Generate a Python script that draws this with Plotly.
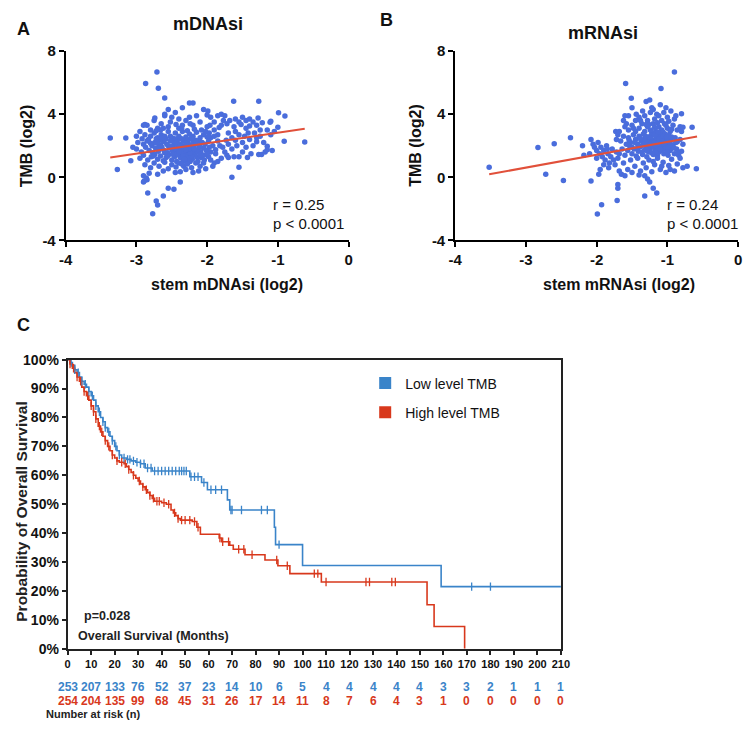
import numpy as np
import plotly.graph_objects as go

FONT = "Arial, Liberation Sans, Helvetica, sans-serif"

# ---------------- Panel A data: stem mDNAsi (log2) vs TMB (log2) ----------------
mdnasi_points = [
    # upper band of core
    (-2.55,4.3),(-2.45,4.1),(-2.35,4.4),(-2.2,4.7),(-2.05,4.3),(-2.6,3.9),(-2.5,3.8),(-2.4,3.7),(-2.3,3.6),(-2.15,3.9),
    (-2.85,3.3),(-2.75,3.6),(-2.9,3.3),(-2.65,3.4),(-2.2,3.3),(-2.1,3.5),(-2.0,3.2),(-2.7,3.1),(-2.55,3.2),(-2.35,3.3),
    (-2.25,3.8),(-2.6,4.0),(-2.8,3.0),(-2.4,3.1),(-2.18,3.05),
    # y 2.5-3.0
    (-2.95,2.9),(-2.88,2.7),(-2.8,2.6),(-2.75,2.8),(-2.7,2.5),(-2.65,2.7),(-2.6,2.6),(-2.55,2.9),(-2.5,2.5),(-2.45,2.8),
    (-2.4,2.6),(-2.35,2.9),(-2.3,2.55),(-2.25,2.75),(-2.2,2.6),(-2.15,2.85),(-2.1,2.5),(-2.05,2.7),(-2.0,2.55),(-2.72,2.95),
    (-2.58,2.45),(-2.42,2.35),(-2.28,2.4),(-2.12,2.3),(-2.83,2.4),(-2.92,2.45),(-3.0,2.6),
    # y 2.0-2.5
    (-3.05,1.9),(-2.98,2.2),(-2.9,2.1),(-2.85,2.3),(-2.78,2.0),(-2.74,2.2),(-2.68,2.35),(-2.66,2.05),(-2.62,2.25),(-2.57,2.1),
    (-2.52,2.3),(-2.48,2.0),(-2.44,2.2),(-2.38,2.1),(-2.34,2.3),(-2.31,2.0),(-2.27,2.2),(-2.23,2.05),(-2.19,2.25),(-2.16,2.1),
    (-2.11,2.0),(-2.07,2.2),(-2.03,2.1),(-1.98,2.3),(-2.6,2.4),(-2.46,2.45),(-2.36,2.45),(-2.21,2.4),(-2.7,2.15),(-2.55,2.0),
    # y 1.5-2.0
    (-3.0,1.8),(-2.93,1.6),(-2.87,1.9),(-2.82,1.7),(-2.77,1.55),(-2.73,1.85),(-2.69,1.65),(-2.64,1.9),(-2.61,1.7),(-2.56,1.55),
    (-2.53,1.85),(-2.49,1.7),(-2.45,1.6),(-2.41,1.9),(-2.37,1.75),(-2.33,1.55),(-2.29,1.85),(-2.26,1.65),(-2.22,1.9),(-2.18,1.5),
    (-2.14,1.75),(-2.09,1.6),(-2.05,1.85),(-2.01,1.7),(-2.35,1.95),(-2.28,1.6),(-2.24,1.75),(-2.31,1.7),(-2.27,1.5),(-2.2,1.7),
    # y 1.0-1.5
    (-2.95,1.2),(-2.9,1.4),(-2.84,1.1),(-2.79,1.3),(-2.74,1.45),(-2.7,1.15),(-2.66,1.35),(-2.62,1.05),(-2.58,1.25),(-2.54,1.45),
    (-2.5,1.1),(-2.46,1.3),(-2.43,1.0),(-2.39,1.4),(-2.35,1.2),(-2.32,1.45),(-2.29,1.05),(-2.25,1.3),(-2.21,1.15),(-2.17,1.4),
    (-2.13,1.0),(-2.08,1.25),(-2.04,1.1),(-2.34,1.0),(-2.27,1.4),(-2.24,1.0),(-2.3,1.3),(-2.26,1.2),(-2.38,1.25),(-2.22,1.35),
    # y 0.5-1.0
    (-2.88,0.8),(-2.8,0.6),(-2.75,0.9),(-2.68,0.7),(-2.6,0.95),(-2.55,0.55),(-2.5,0.8),(-2.44,0.65),(-2.4,0.9),(-2.33,0.7),
    (-2.28,0.85),(-2.22,0.6),(-2.16,0.9),(-2.1,0.7),(-2.02,0.55),(-2.3,0.5),(-2.38,0.35),(-2.62,0.4),(-2.7,0.2),(-2.82,0.25),
    (-2.9,0.1),(-2.85,-0.15),(-2.45,0.3),(-2.2,0.3),(-2.12,0.4),
    # extra core density
    (-2.48,1.45),(-2.44,1.8),(-2.4,2.05),(-2.36,1.6),(-2.32,1.9),(-2.28,2.3),(-2.24,1.55),(-2.2,1.95),(-2.16,2.35),(-2.13,1.6),
    (-2.46,2.15),(-2.42,1.5),(-2.38,2.0),(-2.34,1.35),(-2.3,2.15),(-2.26,1.8),(-2.22,2.5),(-2.18,1.8),(-2.14,1.25),(-2.1,1.45),
    (-2.5,1.95),(-2.52,2.6),(-2.56,1.35),(-2.6,1.55),(-2.64,2.5),(-2.68,1.9),(-2.72,2.45),(-2.76,1.35),(-2.8,2.15),(-2.66,3.0),
    (-2.62,3.1),(-2.52,3.5),(-2.44,3.35),(-2.36,3.1),(-2.28,2.95),(-2.24,3.4),(-2.32,1.15),(-2.36,0.85),(-2.4,1.6),(-2.3,1.75),
    # outliers / sparse left
    (-2.71,6.67),(-2.87,5.94),(-2.69,5.64),(-2.60,5.02),(-3.37,2.49),(-3.15,2.49),(-3.27,0.49),(-3.08,1.05),(-2.89,-0.23),
    (-2.84,-1.0),(-2.77,-2.3),(-2.72,-1.5),(-2.70,-1.75),(-2.62,-1.19),(-2.55,-0.7),(-2.47,-0.75),(-2.38,-0.3),(-2.25,4.7),
    (-2.88,3.35),(-2.9,-0.3),(-2.86,-0.05),(-2.74,3.75),
    # right side
    (-1.99,4.2),(-1.625,4.81),(-1.27,4.81),(-0.99,4.09),(-0.90,3.89),(-0.62,2.24),(-0.91,2.28),(-1.0,3.17),(-1.11,3.48),(-1.65,0.0),
    (-1.55,0.64),(-1.27,1.45),(-1.23,1.45),(-1.15,1.96),(-1.15,1.75),(-1.43,1.25),(-1.55,1.3),(-1.62,1.3),(-1.7,1.25),(-1.30,2.5),
    (-1.95,3.8),(-1.85,3.9),(-1.8,4.0),(-1.75,3.9),(-1.9,3.0),(-1.85,2.7),(-1.8,3.3),(-1.72,3.4),(-1.68,3.6),(-1.6,3.7),
    (-1.55,3.5),(-1.5,3.8),(-1.45,3.6),(-1.4,3.7),(-1.35,3.5),(-1.3,3.3),(-1.25,3.0),(-1.45,3.1),(-1.6,2.9),(-1.7,2.8),
    (-1.65,2.5),(-1.55,2.7),(-1.5,2.2),(-1.4,2.4),(-1.35,2.0),(-1.45,1.9),(-1.58,2.0),(-1.7,2.1),(-1.78,1.9),(-1.85,2.3),
    (-1.92,2.0),(-1.95,1.6),(-1.88,1.5),(-1.8,1.2),(-1.75,1.6),(-1.65,1.8),(-1.5,1.6),(-1.38,1.5),(-1.2,2.2),(-1.1,2.7),
    (-1.25,2.6),(-1.42,2.8),(-1.62,3.2),(-1.77,3.6),(-1.9,3.5),(-1.97,2.8),(-1.98,1.3),(-1.9,0.9),(-1.85,1.0),(-1.92,0.7),
    (-1.95,2.5),(-1.83,3.15),(-1.73,2.35),(-1.6,2.35),(-1.47,2.6),(-1.52,3.35),(-1.33,2.8),(-1.15,3.0),(-1.05,2.9),(-1.08,1.7),
    (-1.18,1.6),(-1.4,3.25),(-1.22,3.45),(-1.28,3.75),(-1.1,3.55),(-1.3,2.25),(-1.72,1.4),(-1.9,2.6),(-1.96,3.3),(-1.82,2.0),
    (-2.0,3.95),(-2.08,3.0),(-2.02,2.9),(-1.98,2.6),(-2.05,1.4),(-1.97,1.9),(-2.0,1.5),(-1.95,1.1),(-2.05,0.9),(-1.88,1.75),
    (-2.1,1.9),
]
mdnasi_fit_x = [-3.37, -0.62]
mdnasi_fit_y = [1.25, 3.08]

# ---------------- Panel B data: stem mRNAsi (log2) vs TMB (log2) ----------------
mrnasi_points = [
    # left arm
    (-2.08,2.4),(-2.05,2.1),(-2.03,1.9),(-2.0,1.7),(-1.98,2.2),(-1.96,1.5),(-1.94,1.9),(-1.92,1.3),(-1.9,1.7),(-1.88,1.1),
    (-1.86,2.0),(-1.84,1.5),(-1.82,0.9),(-1.8,1.3),(-1.78,1.8),(-1.76,1.1),(-1.74,0.8),(-1.72,1.6),(-1.7,1.2),(-1.95,0.5),
    (-1.97,0.2),(-2.0,1.2),(-1.9,0.8),(-2.2,2.0),(-2.18,1.4),(-2.1,1.5),(-1.85,1.8),(-1.83,0.6),(-1.68,0.4),(-1.65,0.2),
    (-1.73,2.9),(-1.7,2.7),(-1.72,2.4),
    # y 3.5-4.9
    (-1.55,3.9),(-1.5,4.4),(-1.4,3.8),(-1.35,4.2),(-1.3,4.8),(-1.25,4.9),(-1.2,4.3),(-1.15,4.0),(-1.1,4.6),(-1.05,4.1),
    (-1.0,3.8),(-0.95,4.2),(-0.9,3.7),(-1.28,3.6),(-1.18,3.7),(-1.08,3.6),(-1.45,3.6),(-1.6,3.9),(-1.62,3.6),(-1.58,3.4),
    (-1.22,4.4),(-1.32,3.9),(-0.98,3.55),(-1.12,3.9),(-1.02,4.4),(-1.24,4.1),(-0.88,3.9),
    # y 2.8-3.5
    (-1.68,2.9),(-1.6,3.2),(-1.55,3.0),(-1.5,3.3),(-1.45,2.9),(-1.4,3.1),(-1.36,3.4),(-1.32,2.9),(-1.28,3.2),(-1.24,3.0),
    (-1.2,3.4),(-1.16,2.9),(-1.12,3.2),(-1.08,3.0),(-1.04,3.4),(-1.0,3.1),(-0.96,2.9),(-0.92,3.3),(-0.86,3.0),(-0.82,3.2),
    (-0.8,2.9),(-1.3,3.35),(-1.14,3.45),(-1.48,3.1),(-1.22,2.85),(-1.06,2.85),
    # y 2.0-2.8
    (-1.66,2.3),(-1.62,2.6),(-1.58,2.1),(-1.55,2.5),(-1.52,2.2),(-1.48,2.7),(-1.45,2.4),(-1.42,2.1),(-1.4,2.6),(-1.37,2.3),
    (-1.34,2.75),(-1.31,2.0),(-1.29,2.45),(-1.26,2.2),(-1.23,2.65),(-1.2,2.35),(-1.18,2.05),(-1.15,2.55),(-1.12,2.25),(-1.1,2.7),
    (-1.07,2.1),(-1.04,2.45),(-1.01,2.2),(-0.98,2.65),(-0.95,2.35),(-0.92,2.05),(-0.89,2.5),(-0.86,2.25),(-0.82,2.4),(-0.78,2.1),
    (-1.27,2.55),(-1.17,2.4),(-1.14,2.15),(-1.21,2.1),(-1.33,2.35),(-1.09,2.4),(-1.03,2.75),(-0.97,2.2),(-1.24,2.35),(-1.16,2.65),
    # y 1.3-2.0
    (-1.68,1.5),(-1.64,1.8),(-1.6,1.4),(-1.56,1.7),(-1.53,1.95),(-1.5,1.5),(-1.47,1.8),(-1.44,1.35),(-1.41,1.65),(-1.38,1.95),
    (-1.35,1.45),(-1.32,1.75),(-1.29,1.3),(-1.26,1.6),(-1.23,1.9),(-1.2,1.45),(-1.17,1.75),(-1.14,1.35),(-1.11,1.65),(-1.08,1.95),
    (-1.05,1.5),(-1.02,1.8),(-0.99,1.4),(-0.96,1.7),(-0.93,1.95),(-0.9,1.5),(-0.87,1.8),(-0.84,1.4),(-0.8,1.65),(-1.25,1.75),
    (-1.19,1.9),(-1.13,1.55),(-1.07,1.75),(-1.28,1.85),(-1.16,1.6),(-1.0,1.6),
    # y 0.3-1.3
    (-1.62,0.9),(-1.56,0.5),(-1.52,1.1),(-1.46,0.7),(-1.42,1.2),(-1.38,0.4),(-1.34,0.9),(-1.3,0.6),(-1.26,1.1),(-1.22,0.35),
    (-1.18,0.8),(-1.14,1.2),(-1.1,0.5),(-1.06,0.95),(-1.02,0.3),(-0.98,0.75),(-0.94,1.15),(-0.9,0.4),(-0.86,0.85),(-0.82,1.2),
    (-0.78,0.6),(-1.2,1.0),(-1.08,0.7),(-0.96,0.5),(-1.5,0.3),(-1.4,0.15),(-1.28,-0.1),(-1.25,-0.3),(-1.32,0.1),(-1.6,0.1),
    # extra centre density
    (-1.3,2.15),(-1.27,1.95),(-1.24,2.5),(-1.21,2.25),(-1.18,2.7),(-1.15,1.85),(-1.12,2.45),(-1.09,2.05),(-1.06,2.6),(-1.03,1.95),
    (-1.0,2.45),(-1.31,2.6),(-1.28,1.65),(-1.25,2.05),(-1.22,1.55),(-1.19,2.2),(-1.16,2.0),(-1.13,2.85),(-1.1,1.8),(-1.07,2.3),
    (-1.04,2.1),(-1.01,2.55),(-0.99,1.9),(-1.34,2.1),(-1.36,1.6),(-1.38,2.45),(-1.42,1.85),(-1.46,2.2),(-1.5,1.9),(-1.54,2.35),
    (-0.94,2.55),(-0.91,1.85),(-0.88,2.2),(-0.85,1.6),(-0.94,3.05),(-1.18,3.15),(-1.26,3.35),(-1.38,3.6),(-1.44,4.0),(-1.02,3.3),
    # outliers
    (-0.72,0.7),(-0.59,0.54),(-0.8,4.03),(-0.78,3.17),(-0.65,3.17),(-1.59,5.94),(-0.9,6.67),(-1.09,5.62),(-1.51,5.0),
    (-1.71,-1.46),(-1.70,-0.7),(-1.70,-0.45),(-1.32,-1.19),(-1.15,-1.0),(-1.2,-0.7),(-3.52,0.64),(-2.83,1.89),(-2.60,2.12),
    (-2.37,2.51),(-2.72,0.2),(-2.47,-0.2),(-2.08,-0.23),(-1.93,-1.73),(-1.99,-2.33),
]
mrnasi_fit_x = [-3.52, -0.58]
mrnasi_fit_y = [0.19, 2.59]

scatter_xticks = [-4, -3, -2, -1, 0]
scatter_yticks = [-4, 0, 4, 8]

# ---------------- Panel C data: Kaplan-Meier overall survival ----------------
low_times = [0, 1, 2, 3, 4, 5, 6, 7, 8, 9, 10, 11, 12, 13, 14, 15, 16, 17, 18, 19, 20, 21, 22, 23, 25, 27, 29, 31, 33, 36,
             52, 57, 59.5, 68, 69, 88, 88.5, 100, 159]
low_surv = [1.0, 0.99, 0.98, 0.965, 0.955, 0.94, 0.925, 0.915, 0.905, 0.89, 0.875, 0.86, 0.84, 0.82, 0.80, 0.785, 0.765,
            0.75, 0.735, 0.72, 0.70, 0.685, 0.67, 0.66, 0.655, 0.65, 0.645, 0.64, 0.625, 0.615,
            0.595, 0.575, 0.55, 0.515, 0.48, 0.42, 0.36, 0.288, 0.215]
low_end = 210
low_censor = [1.5, 3, 4.5, 6, 7.5, 9, 10.5, 12, 13.5, 15, 16, 17.5, 19, 20.5, 22, 24, 25.5, 26.5, 28, 29.5, 31, 32.5, 34,
              35.5, 37, 38.5, 40, 41.5, 43, 44.5, 46, 47.5, 48.5, 49.5, 50.5, 52.5, 54, 55.5, 58, 61, 63, 65.5, 69.5,
              70, 74, 82.5, 85, 90, 172, 180]

high_times = [0, 1, 2, 3, 4, 5, 6, 7, 8, 9, 10, 11, 12, 13, 14, 15, 16, 17, 18, 19, 20, 21, 22, 24, 25, 26, 27, 28, 29,
              30, 31, 32, 33, 34, 35, 36, 37, 40, 42, 44, 45, 46, 47, 48, 53, 55, 56.5, 64.5, 65.5, 69, 70.5, 75.5, 84,
              89.5, 94.6, 108, 153, 156, 169]
high_surv = [1.0, 0.985, 0.97, 0.955, 0.94, 0.925, 0.905, 0.89, 0.875, 0.86, 0.84, 0.82, 0.795, 0.77, 0.75, 0.735, 0.72,
             0.70, 0.685, 0.67, 0.66, 0.65, 0.645, 0.64, 0.63, 0.62, 0.61, 0.60, 0.59, 0.58, 0.57, 0.56, 0.55, 0.54,
             0.53, 0.52, 0.51, 0.505, 0.50, 0.48, 0.47, 0.46, 0.45, 0.445, 0.44, 0.42, 0.396, 0.383, 0.37, 0.358,
             0.344, 0.325, 0.307, 0.287, 0.26, 0.231, 0.152, 0.077, 0.0]
high_censor = [1, 2.5, 4, 5.5, 7, 8.5, 10, 11, 12, 13.5, 14.5, 16, 17.5, 19, 21, 23, 24.5, 26, 28, 30.5, 32, 33.5, 35,
               36.5, 38, 39, 41, 43, 45.5, 47, 48.5, 50, 52, 54, 55.5, 64.8, 66, 68.5, 72.8, 75, 78.5, 89, 93.5, 105,
               106.5, 110, 127, 128.5, 138, 139.5]

risk_months = list(range(0, 211, 10))
risk_low = [253, 207, 133, 76, 52, 37, 23, 14, 10, 6, 5, 4, 4, 4, 4, 4, 3, 3, 2, 1, 1, 1]
risk_high = [254, 204, 135, 99, 68, 45, 31, 26, 17, 14, 11, 8, 7, 6, 4, 3, 1, 0, 0, 0, 0, 0]

# ---------------- colours ----------------
DOT = "#4a6ddc"
FIT = "#e1503a"
BLUE = "#3a84c9"
RED = "#d8381c"
INK = "#111111"


def pxx(x):
    return x / 750.0


def pyy(y):
    return 1 - y / 730.0


def step_value(times, surv, t):
    i = np.searchsorted(np.array(times), t, side="right") - 1
    return surv[max(i, 0)]


fig = go.Figure()

# Panel A
ax, ay = zip(*mdnasi_points)
fig.add_trace(go.Scatter(x=ax, y=ay, mode="markers", marker=dict(color=DOT, size=5.5),
                         xaxis="x", yaxis="y", showlegend=False))
fig.add_trace(go.Scatter(x=mdnasi_fit_x, y=mdnasi_fit_y, mode="lines", line=dict(color=FIT, width=2),
                         xaxis="x", yaxis="y", showlegend=False))
# Panel B
bx, by = zip(*mrnasi_points)
fig.add_trace(go.Scatter(x=bx, y=by, mode="markers", marker=dict(color=DOT, size=5.5),
                         xaxis="x2", yaxis="y2", showlegend=False))
fig.add_trace(go.Scatter(x=mrnasi_fit_x, y=mrnasi_fit_y, mode="lines", line=dict(color=FIT, width=2),
                         xaxis="x2", yaxis="y2", showlegend=False))

# Panel C KM curves
lt = list(low_times) + [low_end]
ls = [v * 100 for v in low_surv] + [low_surv[-1] * 100]
fig.add_trace(go.Scatter(x=lt, y=ls, mode="lines", line=dict(color=BLUE, width=1.6, shape="hv"),
                         xaxis="x3", yaxis="y3", showlegend=False))
ht = list(high_times)
hs = [v * 100 for v in high_surv]
fig.add_trace(go.Scatter(x=ht, y=hs, mode="lines", line=dict(color=RED, width=1.6, shape="hv"),
                         xaxis="x3", yaxis="y3", showlegend=False))
fig.add_trace(go.Scatter(x=low_censor, y=[step_value(low_times, low_surv, t) * 100 for t in low_censor],
                         mode="markers", marker=dict(symbol="line-ns", size=6, line=dict(width=1.3, color=BLUE)),
                         xaxis="x3", yaxis="y3", showlegend=False))
fig.add_trace(go.Scatter(x=high_censor, y=[step_value(high_times, high_surv, t) * 100 for t in high_censor],
                         mode="markers", marker=dict(symbol="line-ns", size=6, line=dict(width=1.3, color=RED)),
                         xaxis="x3", yaxis="y3", showlegend=False))

# Legend entries
fig.add_trace(go.Scatter(x=[None], y=[None], mode="markers", name="Low level TMB", legendgroup="low",
                         marker=dict(symbol="square", size=12, color=BLUE), xaxis="x3", yaxis="y3"))
fig.add_trace(go.Scatter(x=[None], y=[None], mode="markers", name="High level TMB", legendgroup="high",
                         marker=dict(symbol="square", size=12, color=RED), xaxis="x3", yaxis="y3"))

tick_font = dict(family=FONT, size=15, color=INK, weight="bold")
scatter_axis = dict(showline=True, linecolor="black", linewidth=2, ticks="outside", ticklen=5, tickwidth=2,
                    tickcolor="black", showgrid=False, zeroline=False, tickfont=tick_font)
xt = dict(tickvals=scatter_xticks, ticktext=[str(v) for v in scatter_xticks])
yt = dict(tickvals=scatter_yticks, ticktext=[str(v) for v in scatter_yticks])

fig.update_layout(
    width=750, height=730, margin=dict(l=0, r=0, t=0, b=0),
    paper_bgcolor="white", plot_bgcolor="white",
    font=dict(family=FONT, color=INK),
    xaxis=dict(domain=[pxx(60), pxx(349)], range=[-4, 0], anchor="y", **xt, **scatter_axis),
    yaxis=dict(domain=[pyy(237), pyy(43)], range=[-4, 8], anchor="x", **yt, **scatter_axis),
    xaxis2=dict(domain=[pxx(458), pxx(747)], range=[-4, 0], anchor="y2", **xt, **scatter_axis),
    yaxis2=dict(domain=[pyy(237), pyy(43)], range=[-4, 8], anchor="x2", **yt, **scatter_axis),
    xaxis3=dict(domain=[pxx(62), pxx(566)], range=[0, 210], tickvals=risk_months, anchor="y3",
                showline=True, mirror=True, linecolor="#222", linewidth=2, ticks="outside", ticklen=4,
                tickwidth=1.5, tickcolor="#222", showgrid=False, zeroline=False,
                tickfont=dict(family=FONT, size=11, color=INK, weight="bold")),
    yaxis3=dict(domain=[pyy(655), pyy(359)], range=[0, 100], tickvals=list(range(0, 101, 10)),
                ticktext=[f"{v}%" for v in range(0, 101, 10)], anchor="x3",
                showline=True, mirror=True, linecolor="#222", linewidth=2, ticks="outside", ticklen=4,
                tickwidth=1.5, tickcolor="#222", showgrid=False, zeroline=False,
                tickfont=dict(family=FONT, size=14, color=INK, weight="bold")),
    legend=dict(x=pxx(366), y=pyy(367), xanchor="left", yanchor="top", bgcolor="rgba(0,0,0,0)",
                font=dict(family=FONT, size=14, color=INK), tracegroupgap=8, itemsizing="constant"),
)

ann = []


def text(x, y, s, size, bold=True, xanchor="center", color=INK, angle=0, xref="paper", yref="paper"):
    ann.append(dict(x=x, y=y, xref=xref, yref=yref, text=s, showarrow=False, xanchor=xanchor, yanchor="middle",
                    textangle=angle, font=dict(family=FONT, size=size, color=color, weight="bold" if bold else "normal")))


# Panel letters and titles
text(pxx(8), pyy(20), "A", 18, xanchor="left")
text(pxx(379), pyy(11), "B", 18, xanchor="left")
text(pxx(8), pyy(324), "C", 18, xanchor="left")
text(pxx(205), pyy(15), "mDNAsi", 18)
text(pxx(609), pyy(25), "mRNAsi", 18)
# Axis titles
text(pxx(20), pyy(140), "TMB (log2)", 16, angle=-90)
text(pxx(225), pyy(282), "stem mDNAsi (log2)", 16)
text(pxx(418), pyy(140), "TMB (log2)", 16, angle=-90)
text(pxx(625), pyy(282), "stem mRNAsi (log2)", 16)
# stats
text(pxx(270), pyy(200), "r = 0.25", 15, bold=False, xanchor="left")
text(pxx(270), pyy(220), "p < 0.0001", 15, bold=False, xanchor="left")
text(pxx(672), pyy(200), "r = 0.24", 15, bold=False, xanchor="left")
text(pxx(672), pyy(220), "p < 0.0001", 15, bold=False, xanchor="left")
# KM texts
text(pxx(14), pyy(514), "Probability of Overall Survival", 15.5, angle=-90, color="#222")
text(6, 11.3, "p=0.028", 12.5, xanchor="left", xref="x3", yref="y3", color="#222")
text(3.5, 4.5, "Overall Survival (Months)", 12.5, xanchor="left", xref="x3", yref="y3", color="#222")
for m, nl, nh in zip(risk_months, risk_low, risk_high):
    text(m, pyy(694), str(nl), 12, xref="x3", color=BLUE)
    text(m, pyy(708), str(nh), 12, xref="x3", color=RED)
text(pxx(38), pyy(722), "Number at risk (n)", 11, xanchor="left", color="#222")

fig.update_layout(annotations=ann)
fig.write_html("out.html")
